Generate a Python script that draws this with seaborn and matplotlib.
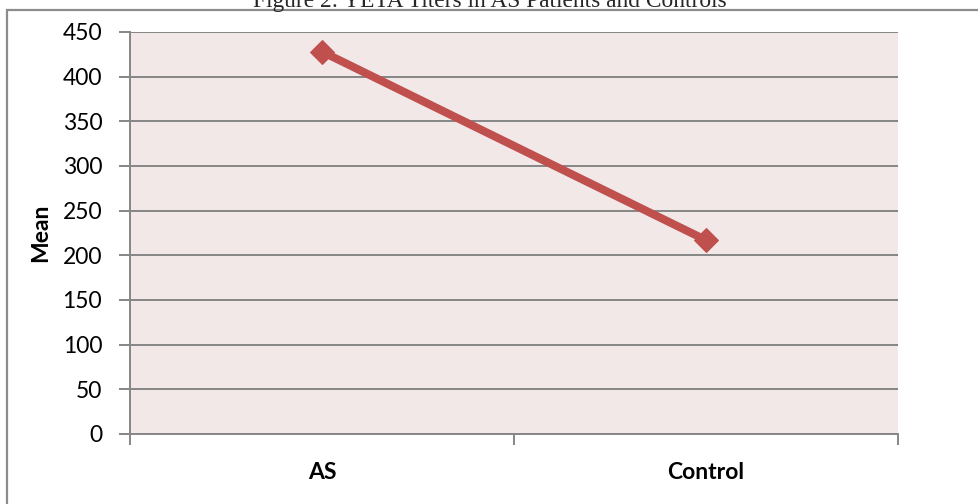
import matplotlib
matplotlib.use("Agg")
import matplotlib.pyplot as plt
from matplotlib.patches import Rectangle
import seaborn as sns
import pandas as pd

groups = ["AS", "Control"]
means = [428, 217]
y_ticks = [0, 50, 100, 150, 200, 250, 300, 350, 400, 450]

title = "Figure 2: YETA Titers in AS Patients and Controls"
y_label = "Mean"

line_color = "#C0504D"
panel_color = "#F2E8E7"
grid_color = "#868686"

sns.set_theme(style="white")
plt.rcParams["font.family"] = ["Lato", "DejaVu Sans"]

df = pd.DataFrame({"group": groups, "mean": means})

fig = plt.figure(figsize=(9.79, 5.04), dpi=100)
ax = fig.add_axes([130 / 979, 1 - 434 / 504, 768 / 979, 402 / 504])
ax.set_facecolor(panel_color)

sns.lineplot(data=df, x="group", y="mean", ax=ax, color=line_color,
             linewidth=5.8, marker="D", markersize=12.5,
             markeredgecolor=line_color, markerfacecolor=line_color,
             solid_capstyle="butt", zorder=3)

ax.set_xlim(-0.5, 1.5)
ax.set_ylim(0, 450)
ax.set_yticks(y_ticks)
ax.set_yticklabels([str(v) for v in y_ticks], fontsize=16.5, color="black")
ax.yaxis.grid(True, color=grid_color, linewidth=1.4)
ax.set_axisbelow(True)

# boundaries between categories carry the tick marks, names sit between them
ax.set_xticks([-0.5, 0.5, 1.5])
ax.set_xticklabels([])
ax.set_xticks([0, 1], minor=True)
ax.set_xticklabels(groups, minor=True, fontsize=16.5, fontweight="bold",
                   color="black")
ax.tick_params(axis="x", which="minor", length=0, pad=20)
ax.tick_params(axis="x", which="major", length=8, width=1.4, color=grid_color,
               direction="out", bottom=True)
ax.tick_params(axis="y", length=8, width=1.4, color=grid_color,
               direction="out", left=True, pad=12)

for side in ["top", "right"]:
    ax.spines[side].set_visible(False)
ax.spines["left"].set_color(grid_color)
ax.spines["left"].set_linewidth(1.4)
ax.spines["bottom"].set_color(grid_color)
ax.spines["bottom"].set_linewidth(1.4)

ax.set_xlabel("")
ax.set_ylabel(y_label, fontsize=16.5, fontweight="bold", labelpad=8,
              color="black")

# outer frame around the chart
fig.patches.append(Rectangle((7 / 979, -0.1), 1.2, 1.1 - 10 / 504,
                             transform=fig.transFigure, fill=False,
                             edgecolor="#8C8C8C", linewidth=1.6))

fig.text(0.5, 1 - 7 / 504, title, ha="center", va="baseline",
         fontsize=16.8, family="Liberation Serif")

fig.savefig("out.png", dpi=100)
